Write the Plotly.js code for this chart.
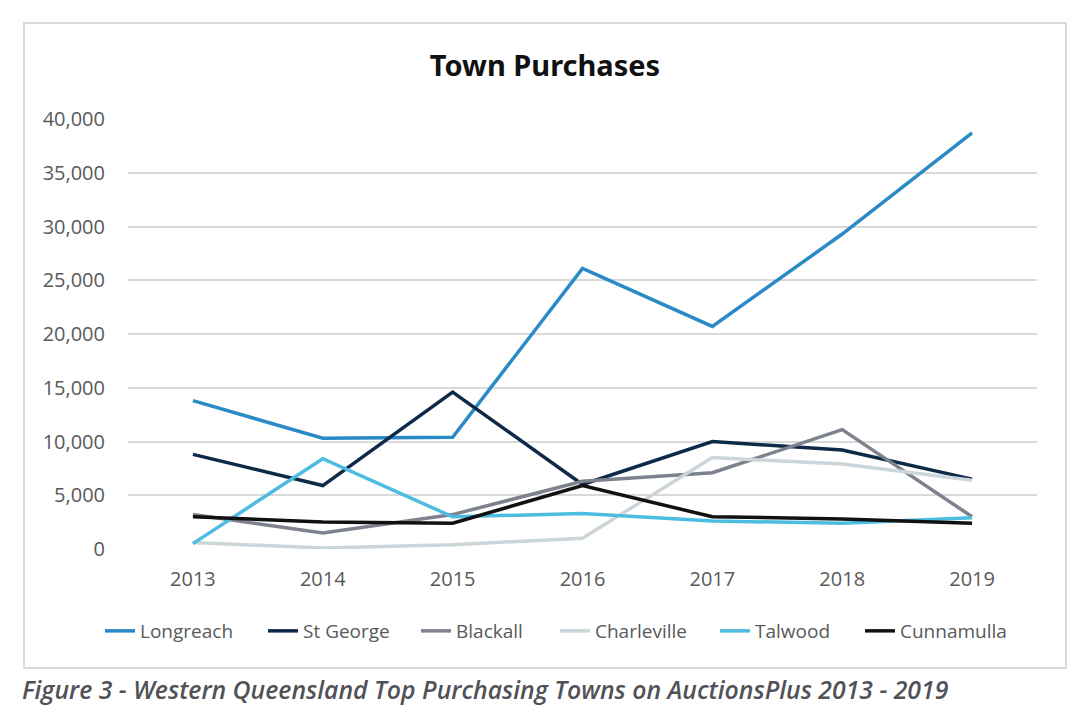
<!DOCTYPE html>
<html>
<head>
<meta charset="utf-8">
<script src="https://cdn.plot.ly/plotly-3.0.1.min.js"></script>
<style>
  html, body { margin: 0; padding: 0; background: #ffffff; }
  #chart { width: 1087px; height: 727px; }
</style>
</head>
<body>
<div id="chart"></div>
<script>
const years = ["2013", "2014", "2015", "2016", "2017", "2018", "2019"];
const longreach  = [13800, 10300, 10400, 26100, 20700, 29300, 38700];
const stGeorge   = [8800, 5900, 14600, 6000, 10000, 9200, 6500];
const blackall   = [3200, 1500, 3200, 6300, 7100, 11100, 3000];
const charleville = [600, 100, 400, 1000, 8500, 7900, 6400];
const talwood    = [500, 8400, 3000, 3300, 2600, 2400, 2900];
const cunnamulla = [3000, 2500, 2400, 5900, 3000, 2800, 2400];
const yTicks = [0, 5000, 10000, 15000, 20000, 25000, 30000, 35000, 40000];
const yTickText = ["0", "5,000", "10,000", "15,000", "20,000", "25,000", "30,000", "35,000", "40,000"];

const seriesNames = ["Longreach", "St George", "Blackall", "Charleville", "Talwood", "Cunnamulla"];
const seriesData = [longreach, stGeorge, blackall, charleville, talwood, cunnamulla];
const seriesColors = ["#2a8ac6", "#0f2a48", "#7d828e", "#ccd5d9", "#4cbde0", "#111111"];

const L = 128, R = 1037, T = 119, B = 549;
const W = 1087, H = 727;
const pw = R - L, ph = B - T;
const px = v => (v - L) / pw;
const py = v => (B - v) / ph;

// legend text start positions (pixels) in the reference
const legendTextX = [140, 303, 456, 595, 755, 900];
const legendIds = ["legend", "legend2", "legend3", "legend4", "legend5", "legend6"];

const traces = seriesNames.map((n, i) => ({
  type: "scatter",
  mode: "lines",
  name: n,
  x: years,
  y: seriesData[i],
  legend: legendIds[i],
  line: { color: seriesColors[i], width: 3.5 },
  hoverinfo: "x+y+name"
}));

const layout = {
  width: W, height: H,
  margin: { l: L, r: W - R, t: T, b: H - B, pad: 0 },
  paper_bgcolor: "#ffffff",
  plot_bgcolor: "#ffffff",
  font: { family: "Open Sans, Noto Sans, sans-serif", color: "#595959", size: 20 },
  title: {
    text: "<b>Town Purchases</b>",
    font: { family: "Noto Sans, Open Sans, sans-serif", size: 29, color: "#111111" },
    x: px(545), xanchor: "center", xref: "paper",
    y: 1 - 66 / H, yanchor: "middle", yref: "container"
  },
  xaxis: {
    type: "category",
    range: [-0.5, 6.5],
    showgrid: false, zeroline: false, showline: false,
    ticks: "", ticklen: 0, ticklabelstandoff: 16,
    tickfont: { size: 20, color: "#595959" },
    fixedrange: true
  },
  yaxis: {
    range: [0, 40000],
    tickvals: yTicks,
    ticktext: yTickText,
    showgrid: true, gridcolor: "#d9d9d9", gridwidth: 2,
    zeroline: false, showline: false,
    ticks: "", ticklabelstandoff: 22,
    tickfont: { size: 20, color: "#595959" },
    fixedrange: true
  },
  showlegend: true,
  shapes: [
    {
      type: "rect", xref: "paper", yref: "paper",
      x0: px(24), x1: px(1066), y0: py(668), y1: py(23),
      line: { color: "#d9d9d9", width: 2 }, fillcolor: "rgba(0,0,0,0)", layer: "below"
    }
  ],
  annotations: [
    {
      text: "<i>Figure 3 - Western Queensland Top Purchasing Towns on AuctionsPlus 2013 - 2019</i>",
      xref: "paper", yref: "paper",
      x: px(20), xanchor: "left",
      y: py(689), yanchor: "middle",
      showarrow: false,
      font: { family: "Open Sans, sans-serif", size: 24.8, weight: 600, color: "#505258" }
    }
  ]
};

legendIds.forEach((id, i) => {
  layout[id] = {
    orientation: "h",
    x: px(legendTextX[i] - 40), xanchor: "left",
    y: py(631), yanchor: "middle",
    bgcolor: "rgba(0,0,0,0)",
    borderwidth: 0,
    font: { family: "Open Sans, sans-serif", size: 19, color: "#595959" }
  };
});

Plotly.newPlot("chart", traces, layout, { displayModeBar: false });
</script>
</body>
</html>
